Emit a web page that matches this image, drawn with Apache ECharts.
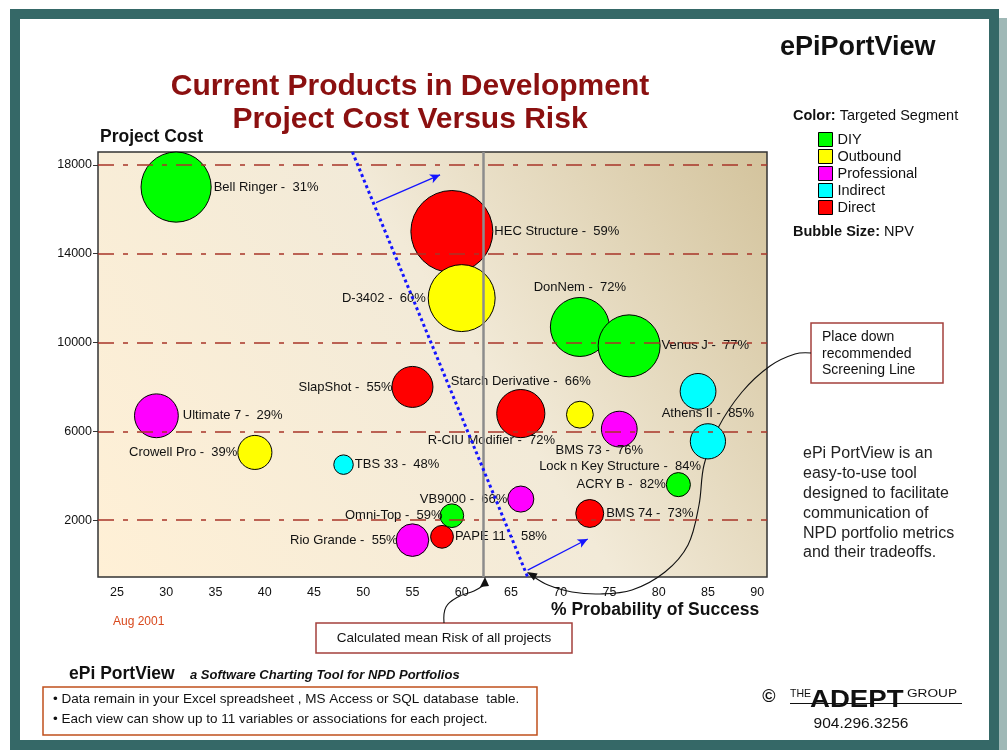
<!DOCTYPE html>
<html>
<head>
<meta charset="utf-8">
<script src="https://cdn.jsdelivr.net/npm/echarts@6/dist/echarts.min.js"></script>
<style>
  html, body { margin: 0; padding: 0; background: #fff; }
  #chart { width: 1007px; height: 750px; }
</style>
</head>
<body>
<div id="chart"></div>
<script>
// project data
const projects = ['Bell Ringer', 'HEC Structure', 'D-3402', 'DonNem', 'Venus J', 'SlapShot', 'Starch Derivative',
  'Ultimate 7', 'Crowell Pro', 'TBS 33', 'R-CIU Modifier', 'BMS 73', 'Lock n Key Structure', 'Athens II',
  'ACRY B', 'VB9000', 'Omni-Top', 'BMS 74', 'Rio Grande', 'PAPE 11'];
const probability = [31, 59, 60, 72, 77, 55, 66, 29, 39, 48, 72, 76, 84, 85, 82, 66, 59, 73, 55, 58];
const cost = [17000, 15000, 12000, 10700, 9850, 8000, 6800, 6700, 5050, 4500, 6750, 6100, 7800, 5550,
  3600, 2950, 2200, 2300, 1100, 1250];
const npv = [1230, 1680, 1120, 870, 960, 420, 580, 480, 290, 95, 180, 320, 320, 310, 145, 170, 140, 195, 265, 130];
const segment = ['DIY', 'Direct', 'Outbound', 'DIY', 'DIY', 'Direct', 'Direct', 'Professional', 'Outbound',
  'Indirect', 'Outbound', 'Professional', 'Indirect', 'Indirect', 'DIY', 'Professional', 'DIY', 'Direct',
  'Professional', 'Direct'];

const segments = ['DIY', 'Outbound', 'Professional', 'Indirect', 'Direct'];
const segmentColors = ['#00ff00', '#ffff00', '#ff00ff', '#00ffff', '#ff0000'];

// axes
const costTicks = [2000, 6000, 10000, 14000, 18000];
const probTicks = [25, 30, 35, 40, 45, 50, 55, 60, 65, 70, 75, 80, 85, 90];

// annotations
const meanRisk = 62.2;
const screeningLine = [[48.9, 18580], [66.7, -560]];
const upperArrow = [[51.3, 16300], [57.8, 17550]];
const lowerArrow = [[66.7, -250], [72.8, 1150]];

const F = "'Liberation Sans', Arial, Helvetica, sans-serif";

// where each bubble label sits
const labelPlacement = {
  'Bell Ringer': { position: 'right', distance: 2 },
  'HEC Structure': { position: 'right', distance: 1 },
  'D-3402': { position: 'left', distance: 2 },
  'DonNem': { position: 'top', distance: 3 },
  'Venus J': { position: 'right', distance: 1 },
  'SlapShot': { position: 'left', distance: -1 },
  'Starch Derivative': { position: 'top', distance: 1 },
  'Ultimate 7': { position: 'right', distance: 4 },
  'Crowell Pro': { position: 'left', distance: 0 },
  'TBS 33': { position: 'right', distance: 1 },
  'R-CIU Modifier': { position: 'left', distance: 2, offset: [-9, 26] },
  'BMS 73': { position: 'bottom', distance: -5, offset: [-20, 1] },
  'Lock n Key Structure': { position: 'bottom', distance: 50, offset: [-78, 0] },
  'Athens II': { position: 'top', distance: 3 },
  'ACRY B': { position: 'left', distance: 0 },
  'VB9000': { position: 'left', distance: 0 },
  'Omni-Top': { position: 'left', distance: -3 },
  'BMS 74': { position: 'right', distance: 2 },
  'Rio Grande': { position: 'left', distance: -2 },
  'PAPE 11': { position: 'right', distance: 1 }
};

const chart = echarts.init(document.getElementById('chart'));

// red drawn first so the others sit above it
const drawOrder = ['Direct', 'DIY', 'Outbound', 'Professional', 'Indirect'];

const bubbleSeries = drawOrder.map(seg => ({
  name: seg,
  type: 'scatter',
  z: 2,
  symbolSize: v => 2 * Math.sqrt(v[2]),
  itemStyle: {
    color: segmentColors[segments.indexOf(seg)],
    borderColor: '#000',
    borderWidth: 1,
    opacity: 1
  },
  emphasis: { disabled: true },
  label: {
    show: true,
    color: '#111',
    fontSize: 13,
    fontFamily: F,
    formatter: p => p.name + ' -  ' + p.value[0] + '%'
  },
  data: projects
    .map((n, i) => i)
    .filter(i => segment[i] === seg)
    .map(i => {
      const pl = labelPlacement[projects[i]] || {};
      return {
        name: projects[i],
        value: [probability[i], cost[i], npv[i]],
        label: { position: pl.position || 'right', distance: pl.distance ?? 3, offset: pl.offset || [0, 0] }
      };
    })
}));

const blue = '#1414ff';

const guideSeries = {
  name: 'guides',
  type: 'scatter',
  data: [],
  z: 5,
  silent: true,
  markLine: {
    silent: true,
    symbol: 'none',
    animation: false,
    label: { show: false },
    emphasis: { disabled: true },
    data: [
      ...costTicks.map(v => ({
        yAxis: v,
        lineStyle: { color: '#a83428', width: 1.6, type: [16, 9, 5, 9] }
      })),
      { xAxis: meanRisk, lineStyle: { color: '#8c8c8c', width: 2.5, type: 'solid' } },
      [
        { coord: screeningLine[0], lineStyle: { color: blue, width: 3, type: [3, 3] } },
        { coord: screeningLine[1] }
      ],
      [
        { coord: upperArrow[0], symbol: 'none', lineStyle: { color: blue, width: 1.3, type: 'solid' } },
        { coord: upperArrow[1], symbol: 'arrow', symbolSize: [7, 10] }
      ],
      [
        { coord: lowerArrow[0], symbol: 'none', lineStyle: { color: blue, width: 1.3, type: 'solid' } },
        { coord: lowerArrow[1], symbol: 'arrow', symbolSize: [7, 10] }
      ]
    ]
  }
};

const teal = '#356867';
const boxRed = '#a4403c';

const option = {
  animation: false,
  backgroundColor: '#fff',
  grid: {
    left: 98,
    top: 152,
    width: 669,
    height: 425,
    show: true,
    borderColor: '#333',
    borderWidth: 1.5,
    backgroundColor: new echarts.graphic.LinearGradient(0, 1, 1, 0, [
      { offset: 0, color: '#fff0d6' },
      { offset: 0.55, color: '#f2ead8' },
      { offset: 1, color: '#d3c39c' }
    ])
  },
  xAxis: {
    type: 'value',
    min: 23.07,
    max: 91,
    axisLine: { show: false },
    axisTick: { show: false },
    splitLine: { show: false },
    axisLabel: {
      customValues: probTicks,
      color: '#111',
      fontSize: 12.5,
      fontFamily: F,
      margin: 9
    }
  },
  yAxis: {
    type: 'value',
    min: -560,
    max: 18580,
    axisLine: { show: false },
    axisTick: { show: true, customValues: costTicks, length: 5, lineStyle: { color: '#333' } },
    splitLine: { show: false },
    axisLabel: {
      customValues: costTicks,
      formatter: v => String(v),
      color: '#111',
      fontSize: 12.5,
      fontFamily: F,
      margin: 6
    }
  },
  legend: {
    data: segments,
    orient: 'vertical',
    left: 818,
    top: 132,
    padding: 0,
    itemWidth: 14,
    itemHeight: 14,
    itemGap: 2,
    icon: 'rect',
    selectedMode: false,
    itemStyle: { borderColor: '#000', borderWidth: 1 },
    textStyle: { color: '#111', fontSize: 14.5, fontFamily: F }
  },
  graphic: [
    // frame
    { type: 'rect', shape: { x: 999, y: 18, width: 8, height: 732 }, style: { fill: '#9fb8b6' } },
    { type: 'rect', shape: { x: 10, y: 9, width: 989, height: 10 }, style: { fill: teal } },
    { type: 'rect', shape: { x: 10, y: 9, width: 10, height: 741 }, style: { fill: teal } },
    { type: 'rect', shape: { x: 989, y: 9, width: 10, height: 741 }, style: { fill: teal } },
    { type: 'rect', shape: { x: 10, y: 740, width: 989, height: 10 }, style: { fill: teal } },

    // titles
    { type: 'text', x: 410, y: 87, style: { text: 'Current Products in Development', font: 'bold 30px ' + F, fill: '#8b1010', align: 'center', textAlign: 'center', verticalAlign: 'middle', textVerticalAlign: 'middle' } },
    { type: 'text', x: 410, y: 120, style: { text: 'Project Cost Versus Risk', font: 'bold 30px ' + F, fill: '#8b1010', align: 'center', textAlign: 'center', verticalAlign: 'middle', textVerticalAlign: 'middle' } },
    { type: 'text', x: 780, y: 48, style: { text: 'ePiPortView', font: 'bold 27px ' + F, fill: '#111', verticalAlign: 'middle', textVerticalAlign: 'middle' } },
    { type: 'text', x: 100, y: 137, style: { text: 'Project Cost', font: 'bold 17.5px ' + F, fill: '#111', verticalAlign: 'middle', textVerticalAlign: 'middle' } },
    { type: 'text', x: 551, y: 610, style: { text: '% Probability of Success', font: 'bold 17.5px ' + F, fill: '#111', verticalAlign: 'middle', textVerticalAlign: 'middle' } },
    { type: 'text', x: 113, y: 622, style: { text: 'Aug 2001', font: '12px ' + F, fill: '#d8481c', verticalAlign: 'middle', textVerticalAlign: 'middle' } },

    // legend captions
    { type: 'text', x: 793, y: 116, style: { text: '{b|Color:} Targeted Segment', font: '14.5px ' + F, fill: '#111', verticalAlign: 'middle', textVerticalAlign: 'middle', rich: { b: { fontWeight: 'bold', fontSize: 14.5, fontFamily: F } } } },
    { type: 'text', x: 793, y: 232, style: { text: '{b|Bubble Size:} NPV', font: '14.5px ' + F, fill: '#111', verticalAlign: 'middle', textVerticalAlign: 'middle', rich: { b: { fontWeight: 'bold', fontSize: 14.5, fontFamily: F } } } },

    // side note
    { type: 'text', x: 803, y: 444, style: { text: 'ePi PortView is an\neasy-to-use tool\ndesigned to facilitate\ncommunication of\nNPD portfolio metrics\nand their tradeoffs.', font: '16px ' + F, lineHeight: 19.8, fill: '#222', verticalAlign: 'top', textVerticalAlign: 'top' } },

    // callout: screening line
    { type: 'rect', shape: { x: 811, y: 323, width: 132, height: 60 }, style: { fill: '#fff', stroke: boxRed, lineWidth: 1.5 } },
    { type: 'text', x: 822, y: 329, style: { text: 'Place down\nrecommended\nScreening Line', font: '14px ' + F, lineHeight: 16.5, fill: '#111', verticalAlign: 'top', textVerticalAlign: 'top' } },
    { type: 'polyline', shape: { points: [[811, 353], [795, 354], [770, 366], [742, 392], [718, 428], [704, 465], [699, 505], [688, 545], [665, 572], [632, 590], [600, 594], [572, 592], [548, 585], [534, 577]], smooth: 0.35 }, style: { stroke: '#111', lineWidth: 1.1, fill: null } },
    { type: 'polygon', shape: { points: [[527, 572], [537.6, 573.4], [533.8, 580.4]] }, style: { fill: '#111' } },

    // callout: mean risk
    { type: 'rect', shape: { x: 316, y: 623, width: 256, height: 30 }, style: { fill: '#fff', stroke: boxRed, lineWidth: 1.5 } },
    { type: 'text', x: 444, y: 638, style: { text: 'Calculated mean Risk of all projects', font: '13.5px ' + F, fill: '#111', align: 'center', textAlign: 'center', verticalAlign: 'middle', textVerticalAlign: 'middle' } },
    { type: 'polyline', shape: { points: [[444, 623], [446, 607], [458, 597], [474, 591], [484, 585]], smooth: 0.4 }, style: { stroke: '#111', lineWidth: 1.1, fill: null } },
    { type: 'polygon', shape: { points: [[485, 577], [480, 587], [489, 586]] }, style: { fill: '#111' } },

    // footer
    { type: 'text', x: 69, y: 674, style: { text: 'ePi PortView', font: 'bold 17.5px ' + F, fill: '#111', verticalAlign: 'middle', textVerticalAlign: 'middle' } },
    { type: 'text', x: 190, y: 675, style: { text: 'a Software Charting Tool for NPD Portfolios', font: 'italic bold 13px ' + F, fill: '#111', verticalAlign: 'middle', textVerticalAlign: 'middle' } },
    { type: 'rect', shape: { x: 43, y: 687, width: 494, height: 48 }, style: { fill: null, stroke: '#c0501c', lineWidth: 1.5 } },
    { type: 'text', x: 53, y: 699, style: { text: '\u2022 Data remain in your Excel spreadsheet , MS Access or SQL database  table.', font: '13.5px ' + F, fill: '#111', verticalAlign: 'middle', textVerticalAlign: 'middle' } },
    { type: 'text', x: 53, y: 719, style: { text: '\u2022 Each view can show up to 11 variables or associations for each project.', font: '13.5px ' + F, fill: '#111', verticalAlign: 'middle', textVerticalAlign: 'middle' } },

    // logo
    { type: 'text', x: 769, y: 697, style: { text: '\u00a9', font: 'bold 18px ' + F, fill: '#111', align: 'center', textAlign: 'center', verticalAlign: 'middle', textVerticalAlign: 'middle' } },
    { type: 'text', x: 790, y: 700, style: { text: 'THE', font: '10.5px ' + F, fill: '#111', verticalAlign: 'bottom', textVerticalAlign: 'bottom' } },
    { type: 'text', x: 810, y: 712, scaleX: 1.2, style: { text: 'ADEPT', font: 'bold 23px ' + F, fill: '#111', verticalAlign: 'bottom', textVerticalAlign: 'bottom' } },
    { type: 'text', x: 907, y: 700, scaleX: 1.3, style: { text: 'GROUP', font: '10.5px ' + F, fill: '#111', verticalAlign: 'bottom', textVerticalAlign: 'bottom' } },
    { type: 'line', shape: { x1: 790, y1: 703.5, x2: 962, y2: 703.5 }, style: { stroke: '#111', lineWidth: 1.2 } },
    { type: 'text', x: 861, y: 724, style: { text: '904.296.3256', font: '15.5px ' + F, fill: '#111', align: 'center', textAlign: 'center', verticalAlign: 'middle', textVerticalAlign: 'middle' } }
  ],
  series: [...bubbleSeries, guideSeries]
};

chart.setOption(option);
</script>
</body>
</html>
